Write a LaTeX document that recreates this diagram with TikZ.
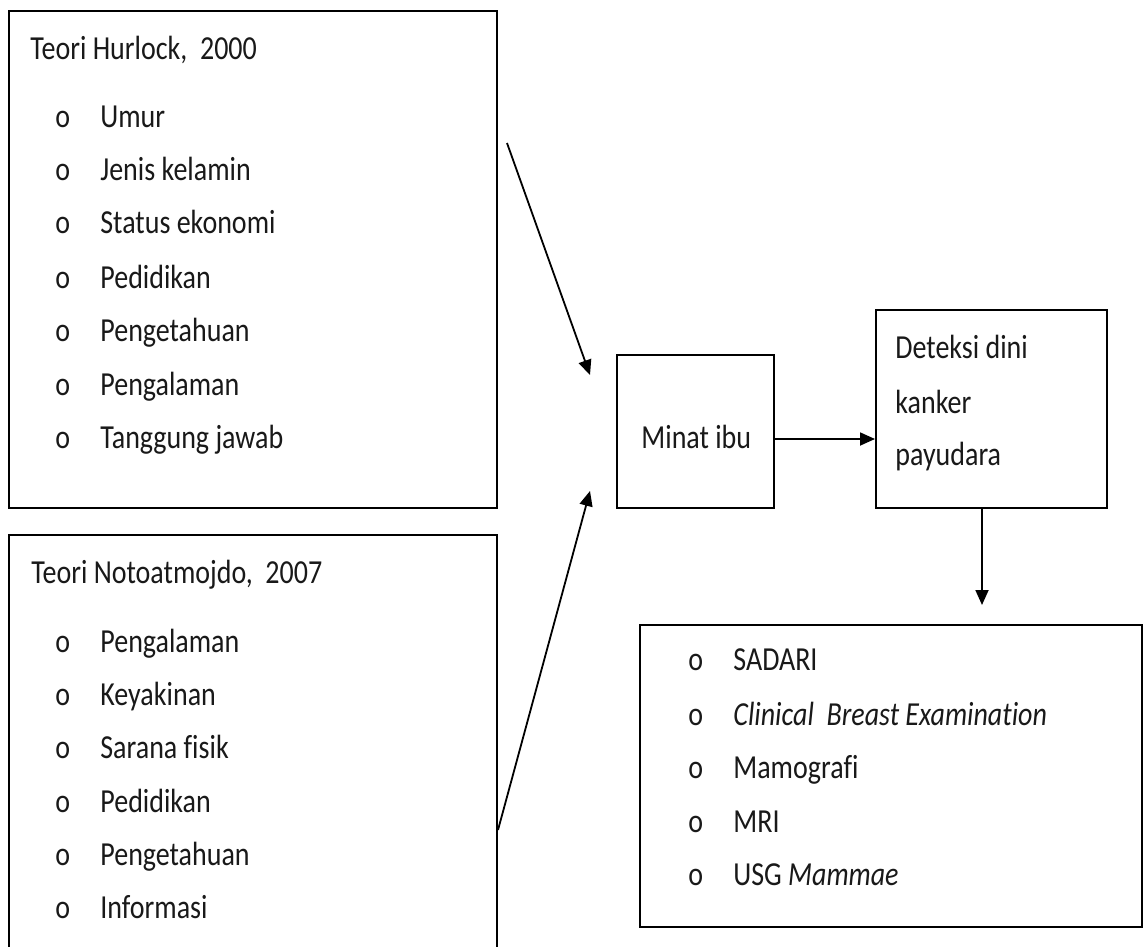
\documentclass[tikz,border=0pt]{standalone}
\usepackage{fontspec}
\setmainfont{Carlito}[Ligatures=NoCommon]
\usetikzlibrary{arrows.meta,fit}
\newcommand{\tall}[1]{\scalebox{1}[1.2]{#1}}
\newcommand{\itm}[1]{\tall{\makebox[22.5pt][l]{o}#1}}

\begin{document}
\begin{tikzpicture}[x=0.5pt,y=-0.5pt]
 	\tikzstyle{box}=[rectangle, draw=black, line width=1pt, inner sep=0pt]
 	\tikzstyle{txt}=[anchor=base west, inner sep=0pt, text=black!90, font=\fontsize{14}{16}\selectfont]
 	\tikzstyle{connect}=[-{Triangle[length=7.5pt,width=6.5pt]}, line width=0.9pt]
 	\useasboundingbox (0,0) rectangle (1147,947);
 	\clip (0,0) rectangle (1147,947);
 	\fill[white] (0,0) rectangle (1147,947);
 	\node[box, fit={(9,11) (497,508)}] (hurlock) {};
 	\node[box, fit={(9,535) (497,960)}] (notoatmojdo) {};
 	\node[box, fit={(617,355) (774,508)}] (minat) {};
 	\node[box, fit={(876,310) (1107,508)}] (deteksi) {};
 	\node[box, fit={(640,625) (1142,927)}] (metode) {};
 	\node[txt] (hurlocktitle) at (30,60) {\tall{Teori Hurlock,\ \ 2000}};
 	\node[txt] (h1) at (55,128) {\itm{Umur}};
 	\node[txt] (h2) at (55,181) {\itm{Jenis kelamin}};
 	\node[txt] (h3) at (55,234) {\itm{Status ekonomi}};
 	\node[txt] (h4) at (55,288) {\itm{Pedidikan}};
 	\node[txt] (h5) at (55,341) {\itm{Pengetahuan}};
 	\node[txt] (h6) at (55,395) {\itm{Pengalaman}};
 	\node[txt] (h7) at (55,448) {\itm{Tanggung jawab}};
 	\node[txt] (nototitle) at (31,583) {\tall{Teori Notoatmojdo,\ \ 2007}};
 	\node[txt] (n1) at (55,652) {\itm{Pengalaman}};
 	\node[txt] (n2) at (55,705) {\itm{Keyakinan}};
 	\node[txt] (n3) at (55,758) {\itm{Sarana fisik}};
 	\node[txt] (n4) at (55,812) {\itm{Pedidikan}};
 	\node[txt] (n5) at (55,865) {\itm{Pengetahuan}};
 	\node[txt] (n6) at (55,918) {\itm{Informasi}};
 	\node[txt] (minattext) at (641,448) {\tall{Minat ibu}};
 	\node[txt] (d1) at (895,358) {\tall{Deteksi dini}};
 	\node[txt] (d2) at (895,413) {\tall{kanker}};
 	\node[txt] (d3) at (895,465) {\tall{payudara}};
 	\node[txt] (m1) at (688,670) {\itm{SADARI}};
 	\node[txt] (m2) at (688,725) {\itm{\textit{Clinical\ \ Breast Examination}}};
 	\node[txt] (m3) at (688,778) {\itm{Mamografi}};
 	\node[txt] (m4) at (688,832) {\itm{MRI}};
 	\node[txt] (m5) at (688,885) {\itm{USG \textit{Mammae}}};
 	\coordinate (hstart) at (507,143);
 	\coordinate (htip) at (590,375);
 	\coordinate (ntip) at (590,491);
 	\coordinate (dtip) at (982,605);
 	\draw[connect] (hstart) -- (htip);
 	\draw[connect] (notoatmojdo.east |- 0,830) -- (ntip);
 	\draw[connect] (minat.east |- 0,439) -- (deteksi.west |- 0,439);
 	\draw[connect] (deteksi.south -| dtip) -- (dtip);
\end{tikzpicture}
\end{document}
